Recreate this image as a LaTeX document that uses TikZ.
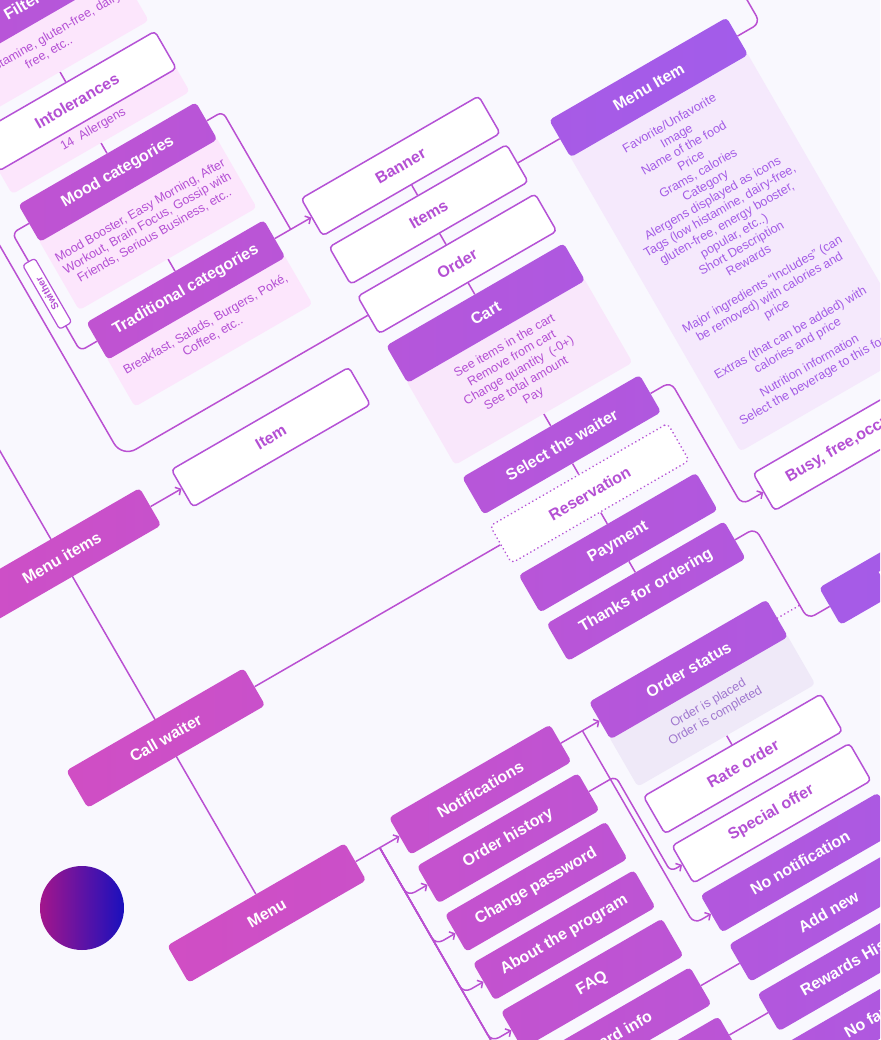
\documentclass[tikz,border=0pt]{standalone}
\usepackage{fontspec}
\setmainfont{Liberation Sans}
\usetikzlibrary{arrows.meta}
\definecolor{bgc}{HTML}{F9F8FE}
\definecolor{gp}{HTML}{D04EC4}
\definecolor{gv}{HTML}{A25CEA}
\definecolor{lc}{HTML}{BA50D2}
\definecolor{bc}{HTML}{B552D6}
\definecolor{tc}{HTML}{B450D4}
\definecolor{tv}{HTML}{A45CE6}
\definecolor{tog}{HTML}{A077CF}
\definecolor{pk}{HTML}{FCE6FC}
\definecolor{cpk}{HTML}{F9E7FB}
\definecolor{lv}{HTML}{F5E9FC}
\definecolor{gl}{HTML}{EFE9F8}
\definecolor{cl}{HTML}{A3168C}
\definecolor{cr}{HTML}{1A10BD}
\pgfdeclarelayer{back}
\pgfdeclarelayer{lines}
\pgfsetlayers{back,lines,main}
\newcommand{\mylbl}{\fontsize{16}{19}\selectfont\bfseries}
\newcommand{\mydsc}{\fontsize{12.5}{14.4}\selectfont}
\begin{document}
\begin{tikzpicture}[x=1pt,y=1pt,
  wb/.style={draw=bc, line width=1.5pt, fill=white, rounded corners=4pt, minimum width=205pt, minimum height=43pt, inner sep=0pt, text=tc, font=\mylbl},
  fb/.style 2 args={rounded corners=4pt, minimum width=205pt, minimum height=43pt, inner sep=0pt, text=white, font=\mylbl, left color=gv!#1!gp, right color=gv!#2!gp},
  fbs/.style 2 args={fb={#1}{#2}, minimum width=186pt},
  pnl/.style={rounded corners=4pt, minimum width=205pt, inner sep=0pt, align=center, font=\mydsc, anchor=north},
  swb/.style={draw=bc, line width=1.2pt, fill=white, rounded corners=3pt, minimum width=74pt, minimum height=14pt, inner sep=0pt, text=tc, font=\fontsize{10}{11}\selectfont\bfseries},
  conn/.style={draw=lc, line width=1.5pt},
  arr/.style={-{Straight Barb[length=4pt,width=9pt]}},
  dotline/.style={dash pattern=on 0.1pt off 4pt, line cap=round, line width=1.8pt}
]
\begin{pgfonlayer}{back}
\fill[bgc] (0,0) rectangle (880,-1040);
\end{pgfonlayer}
\useasboundingbox (0,0) rectangle (880,-1040);
\clip (0,0) rectangle (880,-1040);
\node[circle, minimum size=84pt, inner sep=0pt, left color=cl, right color=cr] (dot) at (82,-908) {};
\begin{scope}[rotate=30, transform shape]
% description panels
\node[pnl, fill=pk, text=tc, minimum height=58.5pt] (filterp) at (16,-33.5) {Low histamine, gluten-free, dairy\\free, etc..};
\node[pnl, fill=pk, text=tc, minimum height=30.5pt] (intolp) at (16,-143.5) {14~ Allergens};
\node[pnl, fill=pk, text=tc, minimum height=82.5pt] (moodp) at (16,-225.5) {Mood Booster, Easy Morning, After\\Workout, Brain Focus, Gossip with\\Friends, Serious Business, etc..};
\node[pnl, fill=pk, text=tc, minimum height=58pt] (tradp) at (16,-361.5) {Breakfast, Salads, Burgers, Poké,\\Coffee, etc..};
\node[pnl, fill=cpk, text=tc, minimum height=98.5pt] (cartp) at (264,-531.5) {See items in the cart\\Remove from cart\\Change quantity~ (-0+)\\See total amount\\Pay};
\node[pnl, fill=lv, text=tv, minimum height=343.5pt] (mitemp) at (518,-417.5) {Favorite/Unfavorite\\Image\\Name of the food\\Price\\Grams, calories\\Category\\Alergens displayed as icons\\Tags (low histamine, dairy-free,\\gluten-free, energy booster,\\popular, etc..)\\Short Description\\Rewards\\[13pt]Major ingredients “Includes” (can\\be removed) with calories and\\price\\[13pt]Extras (that can be added) with\\calories and price\\[9pt]Nutrition information\\Select the beverage to this food};
\node[pnl, fill=gl, text=tog, minimum height=58.5pt] (ostatp) at (261.5,-941.5) {Order is placed\\Order is completed};
% boxes
\node[fb={46}{62}] (filter) at (16,-16) {Filter};
\node[wb] (intol) at (16,-126) {Intolerances};
\node[fb={36}{52}] (mood) at (16,-208) {Mood categories};
\node[fb={34}{50}] (trad) at (16,-344) {Traditional categories};
\node[swb, rotate=90] (swither) at (-106,-278) {Swither};
\node[wb] (banner) at (264,-344) {Banner};
\node[wb] (items) at (264,-400) {Items};
\node[wb] (order) at (264,-457) {Order};
\node[fb={58}{74}] (cart) at (264,-514) {Cart};
\node[fb={54}{70}] (select) at (264,-666) {Select the waiter};
\node[wb, dotline] (reserv) at (264,-722) {Reservation};
\node[fb={52}{68}] (payment) at (264,-779) {Payment};
\node[fb={50}{66}] (thanks) at (264,-835) {Thanks for ordering};
\node[fb={88}{100}] (mitem) at (518,-400) {Menu Item};
\node[wb] (busy) at (518,-808) {Busy, free,occupied};
\node[fb={90}{100}] (rbox) at (518,-940) {Notification};
\node[fb={4}{20}] (menuitems) at (-225.5,-514) {Menu items};
\node[wb] (item) at (16,-514) {Item};
\node[fb={0}{16}] (callw) at (-225.5,-722) {Call waiter};
\node[fb={0}{12}] (menu) at (-225.5,-924) {Menu};
\node[fbs={22}{36}] (notif) at (21,-924) {Notifications};
\node[fbs={24}{38}] (ohist) at (21,-980) {Order history};
\node[fbs={26}{40}] (chpw) at (21,-1036) {Change password};
\node[fbs={28}{42}] (about) at (21,-1092) {About the program};
\node[fbs={30}{44}] (faq) at (21,-1148) {FAQ};
\node[fbs={32}{46}] (card) at (21,-1204) {Card info};
\node[fbs={34}{48}] (blank) at (21,-1261) {};
\node[fb={56}{72}] (ostat) at (261.5,-924) {Order status};
\node[wb] (rate) at (261.5,-1033) {Rate order};
\node[wb] (special) at (261.5,-1090) {Special offer};
\node[fb={64}{80}] (nonotif) at (261.5,-1147) {No notification};
\node[fb={64}{80}] (addnew) at (261.5,-1204) {Add new};
\node[fb={64}{80}] (rewards) at (261.5,-1261) {Rewards History};
\node[fb={64}{80}] (nofav) at (261.5,-1318) {No favorites};
\end{scope}
\begin{pgfonlayer}{lines}
\clip (0,0) rectangle (880,-1040);
\begin{scope}[rotate=30]
\draw[conn] (-225.5,-300) -- (menu.north);
\draw[conn, rounded corners=16pt] (-123,-100) -- (-123,-457) -- (order.west);
\draw[conn, rounded corners=6pt] (mood.west) -- (-106,-208) -- (-106,-344) -- (trad.west);
\draw[conn, rounded corners=6pt] (mood.east) -- (137,-208) -- (137,-344);
\draw[conn, arr] (trad.east) -- (banner.west);
\draw[conn] (items.east) -- (mitem.west);
\draw[conn, rounded corners=8pt] (mitem.east) -- (647,-400) -- (647,-250);
\draw[conn, arr] (menuitems.east) -- (item.west);
\draw[conn] (callw.east) -- (reserv.west);
\draw[conn, arr, rounded corners=8pt] (select.east) -- (390,-666) -- (390,-808) -- (busy.west);
\draw[conn, rounded corners=8pt] (thanks.east) -- (390,-835) -- (390,-940) -- (rbox.west);
\draw[conn, dotline] (ostat.east) -- (390,-924);
\draw[conn, arr] (menu.east) -- (notif.west);
\foreach \n/\d in {ohist/980, chpw/1036, about/1092, faq/1148, card/1204, blank/1261}
  \draw[conn, arr, rounded corners=8pt] (-95,-924) -- (-95,-\d) -- (\n.west);
\draw[conn, arr] (notif.east) -- (ostat.west);
\draw[conn, arr, rounded corners=8pt] (139,-924) -- (139,-1147) -- (nonotif.west);
\draw[conn, arr, rounded corners=6pt] (ohist.east) -- (145,-980) -- (145,-1090) -- (special.west);
\draw[conn] (card.east) -- (addnew.west);
\draw[conn] (blank.east) -- (rewards.west);
\draw[conn] (filterp.south) -- (intol.north);
\draw[conn] (intolp.south) -- (mood.north);
\draw[conn] (moodp.south) -- (trad.north);
\draw[conn] (banner.south) -- (items.north);
\draw[conn] (items.south) -- (order.north);
\draw[conn] (order.south) -- (cart.north);
\draw[conn] (cartp.south) -- (select.north);
\draw[conn] (select.south) -- (reserv.north);
\draw[conn] (reserv.south) -- (payment.north);
\draw[conn] (payment.south) -- (thanks.north);
\draw[conn] (ostatp.south) -- (rate.north);
\end{scope}
\end{pgfonlayer}
\end{tikzpicture}
\end{document}
